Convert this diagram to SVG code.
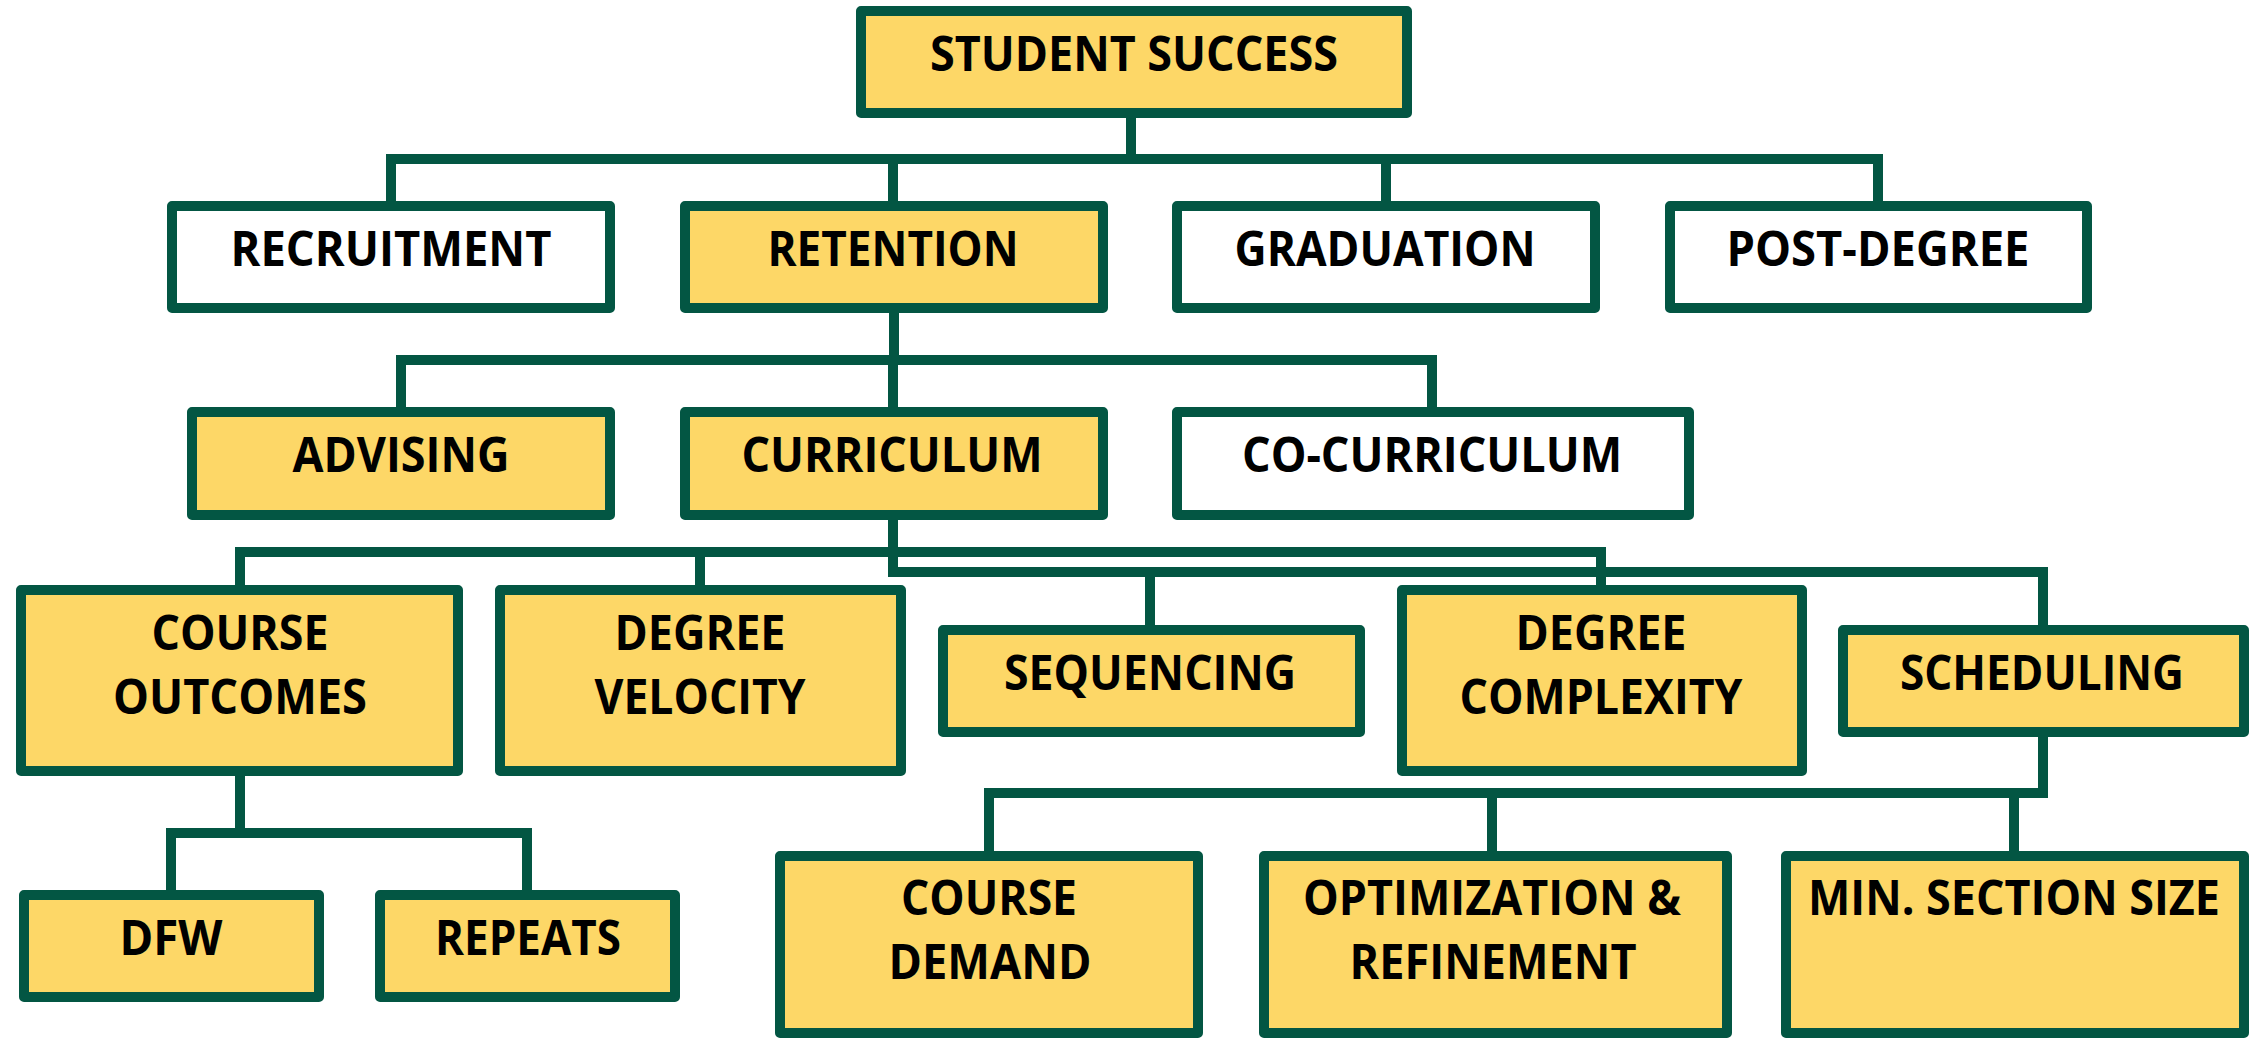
<svg xmlns="http://www.w3.org/2000/svg" width="2255" height="1038" viewBox="0 0 2255 1038">
  <style>
    .box { fill: #fdd767; stroke: #035643; stroke-width: 10; stroke-linejoin: round; }
    .box.plain { fill: #ffffff; }
    .wire { fill: none; stroke: #035643; stroke-width: 10; stroke-linejoin: miter; stroke-linecap: butt; }
    .lbl { font-family: "Open Sans", "Liberation Sans", sans-serif; font-weight: 700; font-size: 48px; fill: #000000; text-anchor: middle; }
  </style>
  <rect width="2255" height="1038" fill="#ffffff"/>

  <!-- tree connectors -->
  <g id="connectors">
    <path class="wire" d="M1131,118 V164"/>
    <path class="wire" d="M391,201 V159 H1878 V201"/>
    <path class="wire" d="M893,159 V201"/>
    <path class="wire" d="M1386,159 V201"/>

    <path class="wire" d="M894,313 V365"/>
    <path class="wire" d="M401,407 V360 H1432 V407"/>
    <path class="wire" d="M893,360 V407"/>

    <path class="wire" d="M893,520 V572 H2043 V625"/>
    <path class="wire" d="M240,585 V552 H1601 V585"/>
    <path class="wire" d="M700,552 V585"/>
    <path class="wire" d="M1150,572 V625"/>

    <path class="wire" d="M240,776 V838"/>
    <path class="wire" d="M171,890 V833 H527 V890"/>

    <path class="wire" d="M2043,737 V793 H989 V851"/>
    <path class="wire" d="M1492,793 V851"/>
    <path class="wire" d="M2014,793 V851"/>
  </g>

  <g id="student-success">
    <rect class="box" x="861" y="11" width="546" height="102"/>
    <text class="lbl" x="1134" y="71" textLength="408" lengthAdjust="spacingAndGlyphs">STUDENT SUCCESS</text>
  </g>

  <g id="recruitment">
    <rect class="box plain" x="172" y="206" width="438" height="102"/>
    <text class="lbl" x="391" y="266" textLength="321" lengthAdjust="spacingAndGlyphs">RECRUITMENT</text>
  </g>
  <g id="retention">
    <rect class="box" x="685" y="206" width="418" height="102"/>
    <text class="lbl" x="893" y="266" textLength="251" lengthAdjust="spacingAndGlyphs">RETENTION</text>
  </g>
  <g id="graduation">
    <rect class="box plain" x="1177" y="206" width="418" height="102"/>
    <text class="lbl" x="1385" y="266" textLength="301" lengthAdjust="spacingAndGlyphs">GRADUATION</text>
  </g>
  <g id="post-degree">
    <rect class="box plain" x="1670" y="206" width="417" height="102"/>
    <text class="lbl" x="1878" y="266" textLength="303" lengthAdjust="spacingAndGlyphs">POST-DEGREE</text>
  </g>

  <g id="advising">
    <rect class="box" x="192" y="412" width="418" height="103"/>
    <text class="lbl" x="401" y="472" textLength="217" lengthAdjust="spacingAndGlyphs">ADVISING</text>
  </g>
  <g id="curriculum">
    <rect class="box" x="685" y="412" width="418" height="103"/>
    <text class="lbl" x="892" y="472" textLength="301" lengthAdjust="spacingAndGlyphs">CURRICULUM</text>
  </g>
  <g id="co-curriculum">
    <rect class="box plain" x="1177" y="412" width="512" height="103"/>
    <text class="lbl" x="1432" y="472" textLength="380" lengthAdjust="spacingAndGlyphs">CO-CURRICULUM</text>
  </g>

  <g id="course-outcomes">
    <rect class="box" x="21" y="590" width="437" height="181"/>
    <text class="lbl" x="240" y="650" textLength="177" lengthAdjust="spacingAndGlyphs">COURSE</text>
    <text class="lbl" x="240" y="714" textLength="254" lengthAdjust="spacingAndGlyphs">OUTCOMES</text>
  </g>
  <g id="degree-velocity">
    <rect class="box" x="500" y="590" width="401" height="181"/>
    <text class="lbl" x="700" y="650" textLength="171" lengthAdjust="spacingAndGlyphs">DEGREE</text>
    <text class="lbl" x="700" y="714" textLength="211" lengthAdjust="spacingAndGlyphs">VELOCITY</text>
  </g>
  <g id="sequencing">
    <rect class="box" x="943" y="630" width="417" height="102"/>
    <text class="lbl" x="1150" y="690" textLength="292" lengthAdjust="spacingAndGlyphs">SEQUENCING</text>
  </g>
  <g id="degree-complexity">
    <rect class="box" x="1402" y="590" width="400" height="181"/>
    <text class="lbl" x="1601" y="650" textLength="171" lengthAdjust="spacingAndGlyphs">DEGREE</text>
    <text class="lbl" x="1601" y="714" textLength="283" lengthAdjust="spacingAndGlyphs">COMPLEXITY</text>
  </g>
  <g id="scheduling">
    <rect class="box" x="1843" y="630" width="401" height="102"/>
    <text class="lbl" x="2042" y="690" textLength="284" lengthAdjust="spacingAndGlyphs">SCHEDULING</text>
  </g>

  <g id="dfw">
    <rect class="box" x="24" y="895" width="295" height="102"/>
    <text class="lbl" x="171" y="955" textLength="103" lengthAdjust="spacingAndGlyphs">DFW</text>
  </g>
  <g id="repeats">
    <rect class="box" x="380" y="895" width="295" height="102"/>
    <text class="lbl" x="528" y="955" textLength="186" lengthAdjust="spacingAndGlyphs">REPEATS</text>
  </g>

  <g id="course-demand">
    <rect class="box" x="780" y="856" width="418" height="177"/>
    <text class="lbl" x="989" y="915" textLength="176" lengthAdjust="spacingAndGlyphs">COURSE</text>
    <text class="lbl" x="990" y="979" textLength="203" lengthAdjust="spacingAndGlyphs">DEMAND</text>
  </g>
  <g id="optimization-refinement">
    <rect class="box" x="1264" y="856" width="463" height="177"/>
    <text class="lbl" x="1492" y="915" textLength="378" lengthAdjust="spacingAndGlyphs">OPTIMIZATION &amp;</text>
    <text class="lbl" x="1493" y="979" textLength="287" lengthAdjust="spacingAndGlyphs">REFINEMENT</text>
  </g>
  <g id="min-section-size">
    <rect class="box" x="1786" y="856" width="458" height="177"/>
    <text class="lbl" x="2014" y="915" textLength="412" lengthAdjust="spacingAndGlyphs">MIN. SECTION SIZE</text>
  </g>
</svg>
